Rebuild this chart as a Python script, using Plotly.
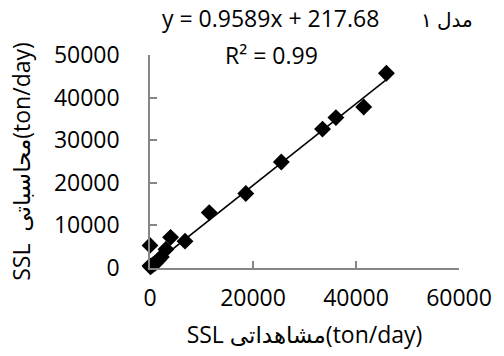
import plotly.graph_objects as go

# Observed vs computed SSL (ton/day)
observed = [0, 100, 500, 1000, 1600, 2200, 3100, 0, 4000, 6800, 11500, 18600, 25500, 33500, 36100, 41500, 45900]
computed = [500, 300, 700, 1100, 1800, 2600, 4400, 5300, 7200, 6300, 13000, 17500, 24900, 32600, 35300, 37800, 45700]

# Trend line from the chart's equation
slope = 0.9589
intercept = 217.68
r2 = 0.99

x_ticks = [0, 20000, 40000, 60000]
x_tick_labels = ["0", "20000", "40000", "60000"]
y_ticks = [0, 10000, 20000, 30000, 40000, 50000]
y_tick_labels = ["0", "10000", "20000", "30000", "40000", "50000"]

FONT = "Open Sans, Noto Sans, DejaVu Sans, sans-serif"
AX = "#868686"

trend_x = [min(observed), max(observed)]
trend_y = [slope * v + intercept for v in trend_x]

fig = go.Figure()
fig.add_trace(go.Scatter(x=trend_x, y=trend_y, mode="lines",
                         line=dict(color="black", width=1.5), showlegend=False,
                         hoverinfo="skip"))
fig.add_trace(go.Scatter(x=observed, y=computed, mode="markers",
                         marker=dict(symbol="diamond", size=13, color="black",
                                     line=dict(width=0)),
                         showlegend=False, cliponaxis=False))

fig.update_layout(
    width=504, height=356,
    margin=dict(l=150, r=35, t=55, b=88),
    paper_bgcolor="white", plot_bgcolor="white",
    font=dict(family=FONT, size=23, color="black"),
    xaxis=dict(range=[0, 60000], tickvals=x_ticks, ticktext=x_tick_labels,
               showgrid=False, zeroline=False, showline=True, linecolor=AX,
               linewidth=1.5, ticks="inside", ticklen=7, tickcolor=AX, tickwidth=1.5,
               ticklabelstandoff=9,
               title=dict(text="SSL مشاهداتی(ton/day)", standoff=15,
                          font=dict(size=23))),
    yaxis=dict(range=[0, 50000], tickvals=y_ticks, ticktext=y_tick_labels,
               showgrid=False, zeroline=False, showline=True, linecolor=AX,
               linewidth=1.5, ticks="inside", ticklen=7, tickcolor=AX, tickwidth=1.5,
               ticklabelstandoff=24,
               title=dict(text="SSL  محاسباتی(ton/day)", standoff=17,
                          font=dict(size=23))),
    annotations=[
        dict(text=f"y = {slope}x + {intercept}", xref="paper", yref="paper",
             x=0.391, y=1.174, xanchor="center", yanchor="middle",
             showarrow=False, font=dict(size=23)),
        dict(text=f"R² = {r2}", xref="paper", yref="paper",
             x=0.394, y=1.0, xanchor="center", yanchor="middle",
             showarrow=False, font=dict(size=23)),
        dict(text="مدل ١", xref="paper", yref="paper",
             x=0.961, y=1.165, xanchor="center", yanchor="middle",
             showarrow=False, font=dict(size=20)),
    ],
)

fig.write_html("out.html")
